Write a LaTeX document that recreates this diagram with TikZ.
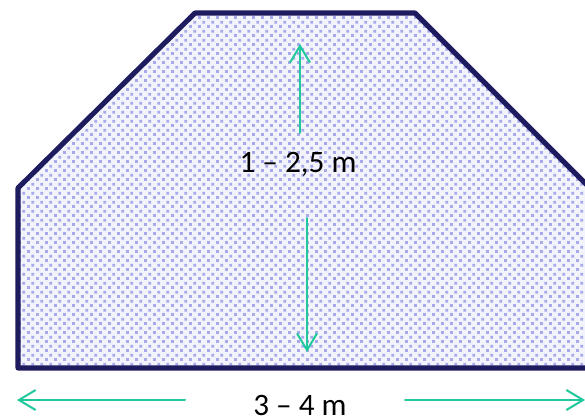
\documentclass[tikz,border=0pt]{standalone}
\usepackage{fontspec}
\setmainfont{Carlito}
\usetikzlibrary{arrows.meta,patterns.meta}
\definecolor{navy}{HTML}{1E1B5E}
\definecolor{mint}{HTML}{1FC99B}
\definecolor{lav}{HTML}{A8A8EC}
\definecolor{lavbg}{HTML}{F3F3FC}

\tikzdeclarepattern{
  name=squaredots,
  bounding box={(0pt,0pt) and (7pt,7pt)},
  tile size={(7pt,7pt)},
  code={
    \fill (0pt,0pt) rectangle (2.3pt,2.3pt);
    \fill (3.5pt,3.5pt) rectangle (5.8pt,5.8pt);
  }
}

\begin{document}
\begin{tikzpicture}[x=.75pt,y=-.75pt,font=\fontsize{23.4}{28}\selectfont,
    >={Straight Barb[length=12.5pt,width=15pt]},line cap=round,line join=round,
    dim/.style={->,mint,line width=1.5pt}]
  \useasboundingbox (0,0) rectangle (585,416);

  \draw[navy,line width=3.8pt,preaction={fill=lavbg},
        preaction={pattern=squaredots,pattern color=lav}]
    (18,368) -- (18,188) -- (195,13) -- (415,13) -- (589,187) -- (589,368) -- cycle;

  \node[anchor=base] (h) at (298,173) {1 – 2,5 m};
  \coordinate (hUpS) at (300,133);
  \coordinate (hUpE) at (300,44);
  \coordinate (hDnS) at (307,218);
  \coordinate (hDnE) at (307,352);
  \draw[dim] (hUpS) -- (hUpE);
  \draw[dim] (hDnS) -- (hDnE);

  \node[anchor=base] (w) at (300,415) {3 – 4 m};
  \coordinate (wLS) at (185,400);
  \coordinate (wLE) at (17,400);
  \coordinate (wRS) at (405,400);
  \coordinate (wRE) at (585,400);
  \draw[dim] (wLS) -- (wLE);
  \draw[dim] (wRS) -- (wRE);
\end{tikzpicture}
\end{document}
